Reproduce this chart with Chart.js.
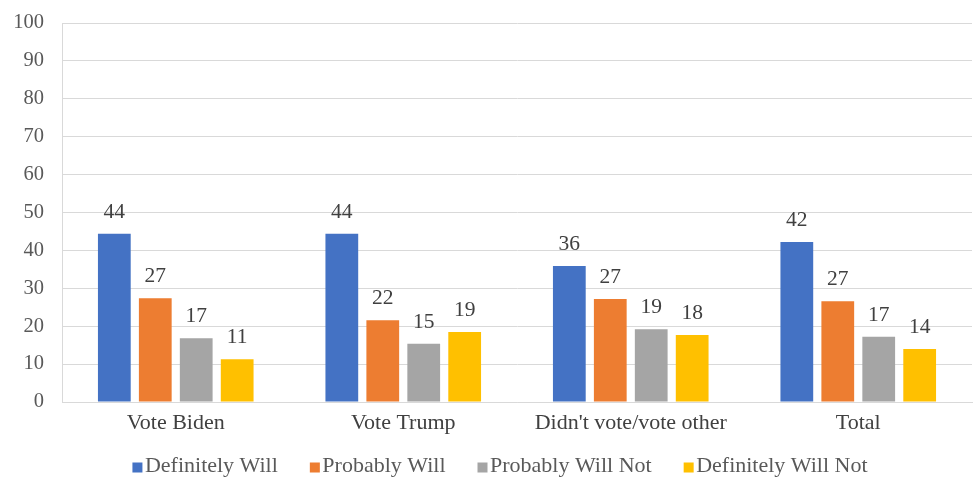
<!DOCTYPE html>
<html>
<head>
<meta charset="utf-8">
<script src="https://cdn.jsdelivr.net/npm/chart.js@4/dist/chart.umd.min.js"></script>
<style>
  html, body { margin: 0; padding: 0; background: #ffffff; }
  #wrap { width: 973px; height: 477px; position: relative; }
</style>
</head>
<body>
<div id="wrap"><canvas id="c"></canvas></div>
<script>
const categories = ["Vote Biden", "Vote Trump", "Didn't vote/vote other", "Total"];
const seriesNames = ["Definitely Will", "Probably Will", "Probably Will Not", "Definitely Will Not"];
const definitelyWill = [44.4, 44.4, 35.9, 42.2];
const probablyWill = [27.4, 21.6, 27.2, 26.6];
const probablyWillNot = [16.8, 15.4, 19.2, 17.2];
const definitelyWillNot = [11.3, 18.5, 17.7, 14.0];
const definitelyWillLabels = [44, 44, 36, 42];
const probablyWillLabels = [27, 22, 27, 27];
const probablyWillNotLabels = [17, 15, 19, 17];
const definitelyWillNotLabels = [11, 19, 18, 14];
const yTicks = [0, 10, 20, 30, 40, 50, 60, 70, 80, 90, 100];

const colors = ["#4472C4", "#ED7D31", "#A5A5A5", "#FFC000"];
const values = [definitelyWill, probablyWill, probablyWillNot, definitelyWillNot];
const labelSets = [definitelyWillLabels, probablyWillLabels, probablyWillNotLabels, definitelyWillNotLabels];
const FONT = "'Liberation Serif', 'Times New Roman', serif";

const valueLabels = {
  id: 'valueLabels',
  afterDatasetsDraw(chart) {
    const ctx = chart.ctx;
    ctx.save();
    ctx.font = "21.5px " + FONT;
    ctx.fillStyle = "#404040";
    ctx.textAlign = "center";
    ctx.textBaseline = "alphabetic";
    chart.data.datasets.forEach((ds, i) => {
      const meta = chart.getDatasetMeta(i);
      meta.data.forEach((bar, j) => {
        ctx.fillText(String(labelSets[i][j]), bar.x, bar.y - 16);
      });
    });
    ctx.restore();
  }
};

// Legend drawn from the chart's own datasets
const bottomLegend = {
  id: 'bottomLegend',
  afterDraw(chart) {
    const ctx = chart.ctx;
    ctx.save();
    ctx.font = "22px " + FONT;
    ctx.textBaseline = "alphabetic";
    ctx.textAlign = "left";
    const box = 10, boxGap = 2.5, itemGap = 32;
    const items = chart.data.datasets.map(ds => ({ text: ds.label, color: ds.backgroundColor, w: ctx.measureText(ds.label).width }));
    const total = items.reduce((s, it) => s + box + boxGap + it.w, 0) + itemGap * (items.length - 1);
    let x = 500 - total / 2;
    const baseline = 472;
    items.forEach(it => {
      ctx.fillStyle = it.color;
      ctx.fillRect(x, baseline - 9.5, box, box);
      x += box + boxGap;
      ctx.fillStyle = "#595959";
      ctx.fillText(it.text, x, baseline);
      x += it.w + itemGap;
    });
    ctx.restore();
  }
};

new Chart(document.getElementById('c'), {
  type: 'bar',
  data: {
    labels: categories,
    datasets: seriesNames.map((name, i) => ({
      label: name,
      data: values[i],
      backgroundColor: colors[i],
      borderWidth: 0,
      categoryPercentage: 0.72,
      barPercentage: 0.8
    }))
  },
  options: {
    responsive: true,
    maintainAspectRatio: false,
    animation: false,
    layout: { padding: { left: 13, right: 1, top: 23, bottom: 40 } },
    plugins: {
      tooltip: { enabled: false },
      legend: { display: false }
    },
    scales: {
      x: {
        grid: { display: false, drawTicks: false },
        border: { display: true, color: '#d9d9d9', width: 1 },
        ticks: { font: { family: FONT, size: 22 }, color: '#404040', padding: 8 },
        afterFit(axis) { axis.height = 35; axis.paddingLeft = 0; axis.paddingRight = 0; }
      },
      y: {
        min: 0, max: 100,
        afterBuildTicks(axis) { axis.ticks = yTicks.map(v => ({ value: v })); },
        grid: { color: '#d9d9d9', lineWidth: 1, drawTicks: false },
        border: { display: true, color: '#d9d9d9' },
        ticks: { font: { family: FONT, size: 20.5 }, color: '#595959', padding: 18 },
        afterFit(axis) { axis.width = 49; axis.paddingTop = 0; axis.paddingBottom = 0; }
      }
    }
  },
  plugins: [valueLabels, bottomLegend]
});
</script>
</body>
</html>
